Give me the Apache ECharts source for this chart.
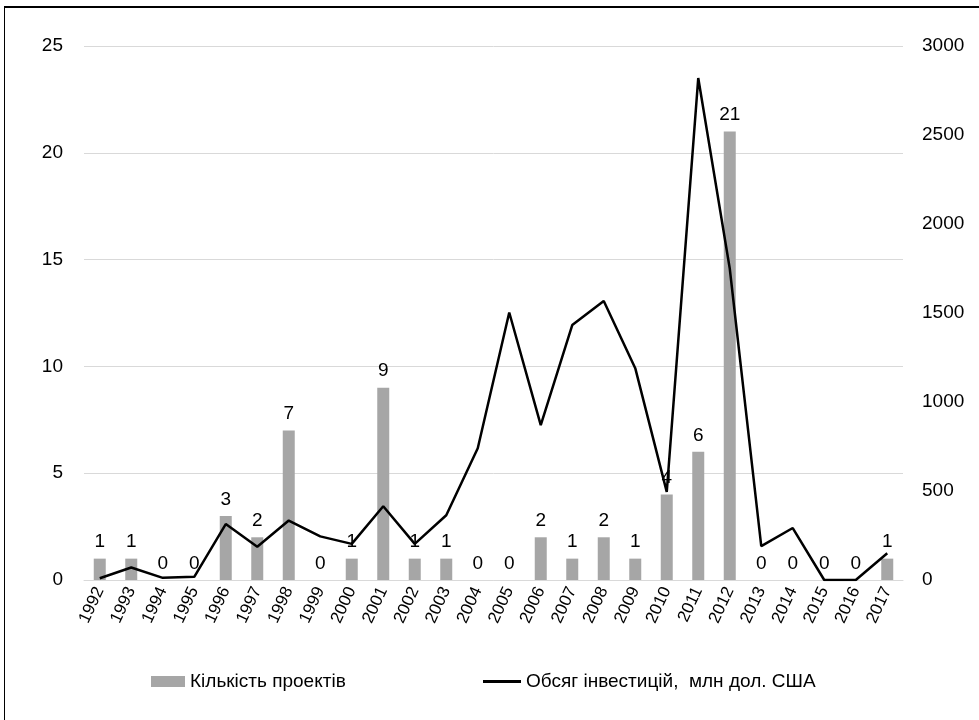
<!DOCTYPE html>
<html>
<head>
<meta charset="utf-8">
<script src="https://cdn.jsdelivr.net/npm/echarts@6/dist/echarts.min.js"></script>
<style>
    html, body { margin: 0; padding: 0; background: #fff; overflow: hidden; }
    #frame {
        position: absolute; left: 4px; top: 6px; width: 1000px; height: 800px;
        border-top: 2px solid #000; border-left: 1px solid #000;
    }
    #chart { position: absolute; left: 0; top: 0; width: 979px; height: 720px; }
</style>
</head>
<body>
<div id="frame"></div>
<div id="chart"></div>
<script>
    const years = ['1992', '1993', '1994', '1995', '1996', '1997', '1998', '1999', '2000', '2001',
        '2002', '2003', '2004', '2005', '2006', '2007', '2008', '2009', '2010', '2011',
        '2012', '2013', '2014', '2015', '2016', '2017'];
    // Кількість проектів
    const projects = [1, 1, 0, 0, 3, 2, 7, 0, 1, 9, 1, 1, 0, 0, 2, 1, 2, 1, 4, 6, 21, 0, 0, 0, 0, 1];
    // Обсяг інвестицій, млн дол. США
    const investments = [10, 70, 12, 18, 314, 187, 334, 245, 203, 414, 203, 364, 740, 1503, 870,
        1432, 1567, 1190, 495, 2820, 1750, 190, 292, 0, 0, 150];

    const barName = 'Кількість проектів';
    const lineName = 'Обсяг інвестицій,  млн дол. США';
    const font = "'Liberation Sans Narrow', 'Arial Narrow', 'Liberation Sans', sans-serif";

    const chart = echarts.init(document.getElementById('chart'));
    chart.setOption({
        animation: false,
        textStyle: { fontFamily: font },
        grid: { left: 84, right: 76, top: 46, bottom: 140 },
        legend: [
            {
                left: 146, bottom: 24,
                itemWidth: 34, itemHeight: 11, itemGap: 4,
                textStyle: { fontFamily: font, fontSize: 19, color: '#000' },
                data: [{ name: barName, icon: 'rect' }]
            },
            {
                left: 478, bottom: 24,
                itemWidth: 38, itemHeight: 11,
                textStyle: { fontFamily: font, fontSize: 19, color: '#000' },
                data: [{ name: lineName, icon: 'path://M0,0 L12,0 L12,1 L0,1 Z' }]
            }
        ],
        xAxis: {
            type: 'category',
            data: years,
            axisLine: { lineStyle: { color: '#d9d9d9', width: 1 } },
            axisTick: { show: false },
            axisLabel: {
                interval: 0, rotate: 65, fontSize: 17, color: '#000', margin: 8, fontFamily: font
            }
        },
        yAxis: [
            {
                type: 'value', min: 0, max: 25, interval: 5,
                axisLine: { show: false }, axisTick: { show: false },
                axisLabel: { fontSize: 19, color: '#000', margin: 21, fontFamily: font },
                splitLine: { lineStyle: { color: '#d9d9d9' } }
            },
            {
                type: 'value', min: 0, max: 3000, interval: 500,
                axisLine: { show: false }, axisTick: { show: false },
                axisLabel: {
                    fontSize: 19, color: '#000', margin: 19, fontFamily: font,
                    formatter: function (v) { return String(v); }
                },
                splitLine: { show: false }
            }
        ],
        series: [
            {
                name: barName,
                type: 'bar',
                data: projects,
                barWidth: 12,
                itemStyle: { color: '#a6a6a6' },
                label: {
                    show: true, position: 'top', distance: 7,
                    fontSize: 19, color: '#000', fontFamily: font
                },
                z: 1
            },
            {
                name: lineName,
                type: 'line',
                yAxisIndex: 1,
                data: investments,
                symbol: 'none',
                lineStyle: { color: '#000', width: 2.5 },
                itemStyle: { color: '#000' },
                z: 2
            }
        ]
    });
</script>
</body>
</html>
